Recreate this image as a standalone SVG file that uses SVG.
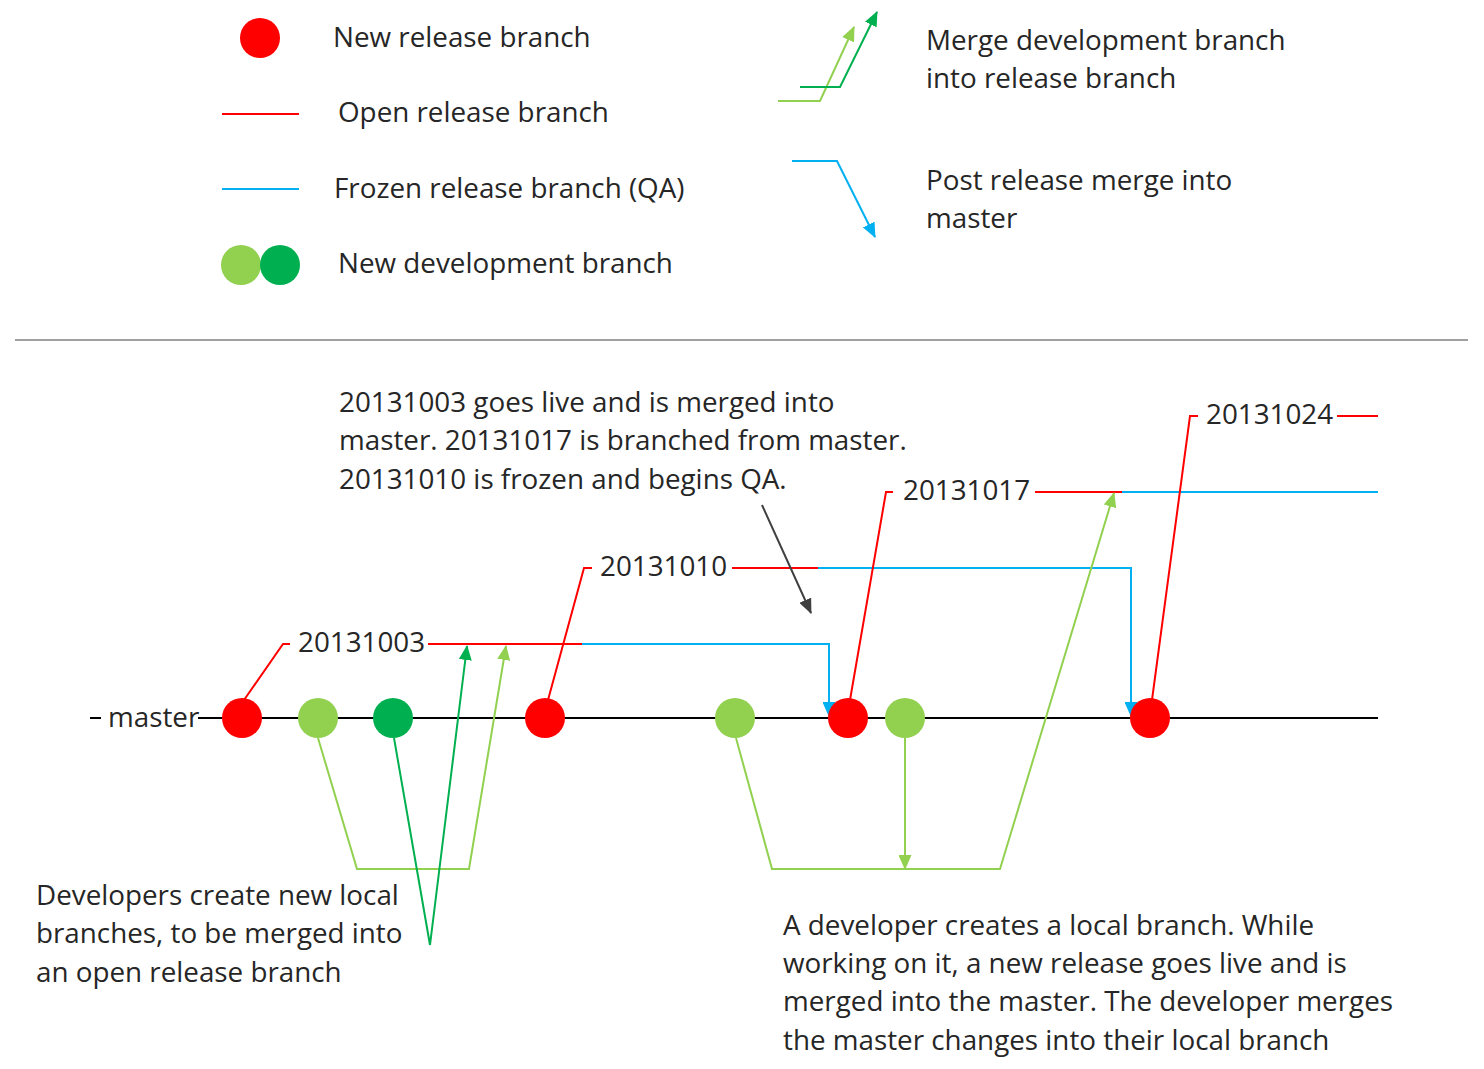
<svg xmlns="http://www.w3.org/2000/svg" width="1484" height="1069" viewBox="0 0 1484 1069">
<style>
text{font-family:"Open Sans","Noto Sans","DejaVu Sans",sans-serif;font-size:27.8px;fill:#262626}
.r{stroke:#ff0000;stroke-width:2;fill:none}
.b{stroke:#00b0f0;stroke-width:2;fill:none}
.lg{stroke:#92d050;stroke-width:2;fill:none}
.dg{stroke:#00b050;stroke-width:2;fill:none}
.k{stroke:#000;stroke-width:2;fill:none}
.cr{fill:#ff0000}.cl{fill:#92d050}.cd{fill:#00b050}
</style>
<defs>
<marker id="aLG" markerWidth="15" markerHeight="13" refX="14" refY="6.5" orient="auto" markerUnits="userSpaceOnUse" viewBox="0 0 15 13"><path d="M0,0L15,6.5L0,13z" fill="#92d050"/></marker>
<marker id="aDG" markerWidth="15" markerHeight="13" refX="14" refY="6.5" orient="auto" markerUnits="userSpaceOnUse" viewBox="0 0 15 13"><path d="M0,0L15,6.5L0,13z" fill="#00b050"/></marker>
<marker id="aB" markerWidth="15" markerHeight="13" refX="14" refY="6.5" orient="auto" markerUnits="userSpaceOnUse" viewBox="0 0 15 13"><path d="M0,0L15,6.5L0,13z" fill="#00b0f0"/></marker>
<marker id="aK" markerWidth="15" markerHeight="13" refX="14" refY="6.5" orient="auto" markerUnits="userSpaceOnUse" viewBox="0 0 15 13"><path d="M0,0L15,6.5L0,13z" fill="#404040"/></marker>
</defs>
<rect width="1484" height="1069" fill="#fff"/>

<g id="legend">
<circle class="cr" cx="260" cy="38" r="20"/>
<text x="333" y="47">New release branch</text>
<line class="r" x1="222" y1="114" x2="299" y2="114"/>
<text x="338" y="122">Open release branch</text>
<line class="b" x1="222" y1="189" x2="299" y2="189"/>
<text x="334" y="198">Frozen release branch (QA)</text>
<circle class="cl" cx="241" cy="265" r="20"/>
<circle class="cd" cx="280" cy="265" r="20"/>
<text x="338" y="273">New development branch</text>
<path class="lg" d="M778,101H820L854,27" marker-end="url(#aLG)"/>
<path class="dg" d="M800,87H840L877,12" marker-end="url(#aDG)"/>
<text x="926" y="50">Merge development branch</text>
<text x="926" y="88">into release branch</text>
<path class="b" d="M792,161H837L875,237" marker-end="url(#aB)"/>
<text x="926" y="190">Post release merge into</text>
<text x="926" y="228">master</text>
</g>

<line x1="15" y1="340" x2="1468" y2="340" stroke="#808080" stroke-width="1.5"/>

<g id="connectors">
<line class="k" x1="90" y1="718" x2="101" y2="718"/>
<line class="k" x1="198" y1="718" x2="1378" y2="718"/>
<!-- 20131003 -->
<path class="r" d="M244,700L283,644H290"/>
<path class="r" d="M428,644H582"/>
<path class="b" d="M582,644H829V716" marker-end="url(#aB)"/>
<!-- 20131010 -->
<path class="r" d="M548,700L584,568H592"/>
<path class="r" d="M732,568H818"/>
<path class="b" d="M818,568H1131V716" marker-end="url(#aB)"/>
<!-- 20131017 -->
<path class="r" d="M850,700L886,492H893"/>
<path class="r" d="M1035,492H1122"/>
<path class="b" d="M1122,492H1378"/>
<!-- 20131024 -->
<path class="r" d="M1152,700L1190,416H1198"/>
<path class="r" d="M1337,416H1378"/>
<!-- merges left -->
<path class="lg" d="M318,738L357,869H469L506,646" marker-end="url(#aLG)"/>
<path class="dg" d="M394,738L430,945L467,646" marker-end="url(#aDG)"/>
<!-- merges right -->
<path class="lg" d="M736,738L772,869H1000L1114,493" marker-end="url(#aLG)"/>
<path class="lg" d="M905,738V869" marker-end="url(#aLG)"/>
<!-- callout -->
<path d="M762,505L811,613" stroke="#404040" stroke-width="2" fill="none" marker-end="url(#aK)"/>
</g>

<g id="nodes">
<circle class="cr" cx="242" cy="718" r="20"/>
<circle class="cl" cx="318" cy="718" r="20"/>
<circle class="cd" cx="393" cy="718" r="20"/>
<circle class="cr" cx="545" cy="718" r="20"/>
<circle class="cl" cx="735" cy="718" r="20"/>
<circle class="cr" cx="848" cy="718" r="20"/>
<circle class="cl" cx="905" cy="718" r="20"/>
<circle class="cr" cx="1150" cy="718" r="20"/>
</g>

<g id="labels">
<text x="108" y="727">master</text>
<text x="298" y="652">20131003</text>
<text x="600" y="576">20131010</text>
<text x="903" y="500">20131017</text>
<text x="1206" y="424">20131024</text>
<text x="339" y="412">20131003 goes live and is merged into</text>
<text x="339" y="450">master. 20131017 is branched from master.</text>
<text x="339" y="489">20131010 is frozen and begins QA.</text>
<text x="36" y="905">Developers create new local</text>
<text x="36" y="943">branches, to be merged into</text>
<text x="36" y="982">an open release branch</text>
<text x="783" y="935">A developer creates a local branch. While</text>
<text x="783" y="973">working on it, a new release goes live and is</text>
<text x="783" y="1011">merged into the master. The developer merges</text>
<text x="783" y="1050">the master changes into their local branch</text>
</g>
</svg>
